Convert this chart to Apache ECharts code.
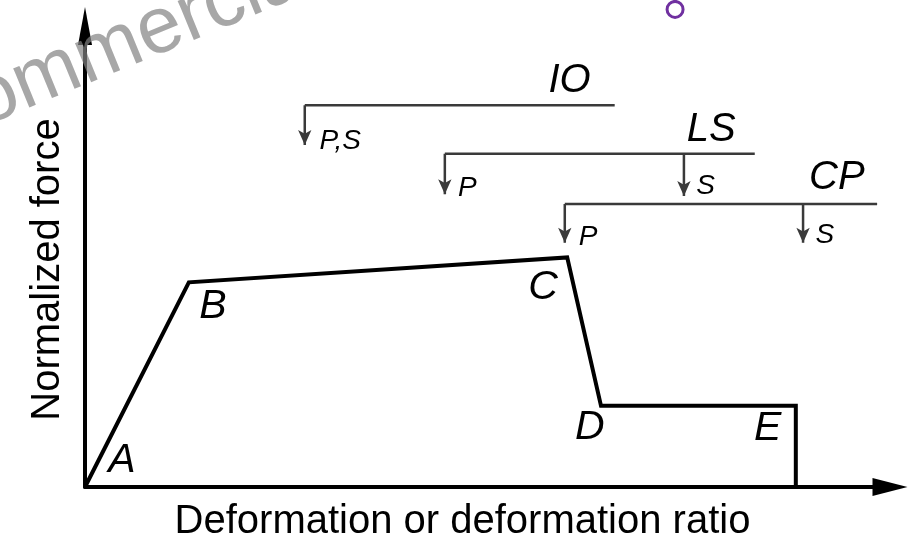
<!DOCTYPE html>
<html>
<head>
<meta charset="utf-8">
<script src="https://cdn.jsdelivr.net/npm/echarts@6/dist/echarts.min.js"></script>
<style>
  html, body { margin: 0; padding: 0; background: #fff; }
  #chart { width: 910px; height: 547px; }
</style>
</head>
<body>
<div id="chart"></div>
<script>
(function() {
  var font = 'Liberation Sans';
  var ink = '#000';
  var gray = '#3a3a3a';

  // backbone curve A-B-C-D-E (normalized units, 0..100)
  var curveX = [0, 12.9, 59.9, 64.1, 88.3, 88.3];
  var curveY = [0, 44.4, 49.8, 17.6, 17.6, 0];

  // point labels
  var pointNames = ['A', 'B', 'C', 'D', 'E'];
  var pointLabelX = [4.6, 15.9, 56.9, 62.7, 84.8];
  var pointLabelY = [5.8, 39.1, 43.3, 12.9, 12.7];

  // performance levels
  var levelNames = ['IO', 'LS', 'CP'];
  var levelY = [82.8, 72.3, 61.4];
  var levelStart = [27.3, 44.7, 59.6];
  var levelEnd = [65.8, 83.2, 98.4];
  var levelNameX = [60.2, 77.8, 93.4];
  var levelNameY = [88.2, 77.5, 67.0];

  // arrows under each level (P = primary, S = secondary)
  var dropX = [27.3, 44.7, 74.4, 59.6, 89.2];
  var dropTop = [82.8, 72.3, 72.3, 61.4, 61.4];
  var dropBottom = [74.2, 63.5, 63.1, 53.0, 53.0];
  var dropText = ['P,S', 'P', 'S', 'P', 'S'];
  var dropTextX = [31.7, 47.5, 77.1, 62.5, 91.9];
  var dropTextY = [75.1, 64.8, 65.2, 54.1, 54.7];

  // small purple ring at the top
  var ringX = [73.3];
  var ringY = [103.6];

  var chart = echarts.init(document.getElementById('chart'), null, { renderer: 'canvas' });

  var series = [];

  series.push({
    type: 'line',
    data: curveX.map(function(x, i) { return [x, curveY[i]]; }),
    showSymbol: false,
    symbol: 'none',
    lineStyle: { color: '#000', width: 4, join: 'miter' },
    animation: false,
    silent: true,
    z: 3
  });

  levelNames.forEach(function(n, i) {
    series.push({
      type: 'line',
      data: [[levelStart[i], levelY[i]], [levelEnd[i], levelY[i]]],
      symbol: 'none',
      lineStyle: { color: gray, width: 2.5 },
      animation: false,
      silent: true
    });
  });

  dropX.forEach(function(x, i) {
    series.push({
      type: 'line',
      data: [[x, dropTop[i]], [x, dropBottom[i]]],
      symbol: 'none',
      lineStyle: { color: gray, width: 2.5 },
      animation: false,
      silent: true
    });
  });

  series.push({
    type: 'scatter',
    data: dropX.map(function(x, i) { return [x, dropBottom[i]]; }),
    symbol: 'arrow',
    symbolSize: [10, 15],
    symbolRotate: 180,
    itemStyle: { color: gray, opacity: 1 },
    clip: false,
    animation: false,
    silent: true
  });

  function labelSeries(names, xs, ys, size) {
    return {
      type: 'scatter',
      data: names.map(function(n, i) { return { name: n, value: [xs[i], ys[i]] }; }),
      symbolSize: 1,
      itemStyle: { color: 'transparent', opacity: 1 },
      label: {
        show: true,
        position: 'inside',
        formatter: '{b}',
        color: ink,
        opacity: 1,
        fontFamily: font,
        fontStyle: 'italic',
        fontSize: size
      },
      clip: false,
      animation: false,
      silent: true
    };
  }

  series.push(labelSeries(pointNames, pointLabelX, pointLabelY, 41));
  series.push(labelSeries(levelNames, levelNameX, levelNameY, 40));
  series.push(labelSeries(dropText, dropTextX, dropTextY, 28));

  series.push({
    type: 'scatter',
    data: ringX.map(function(x, i) { return [x, ringY[i]]; }),
    symbol: 'circle',
    symbolSize: 16,
    itemStyle: { color: 'transparent', borderColor: '#7030a0', borderWidth: 3, opacity: 1 },
    clip: false,
    animation: false,
    silent: true
  });

  chart.setOption({
    backgroundColor: '#fff',
    animation: false,
    grid: { left: 85, right: 20, top: 26, bottom: 55 },
    xAxis: {
      type: 'value',
      min: 0,
      max: 100,
      name: 'Deformation or deformation ratio',
      nameLocation: 'middle',
      nameGap: 15,
      nameTextStyle: { fontSize: 40, color: ink, fontFamily: font, padding: [0, 50, 0, 0] },
      axisLine: {
        show: true,
        onZero: false,
        symbol: ['none', 'triangle'],
        symbolSize: [18, 35],
        lineStyle: { color: '#000', width: 4 }
      },
      axisTick: { show: false },
      axisLabel: { show: false },
      splitLine: { show: false }
    },
    yAxis: {
      type: 'value',
      min: 0,
      max: 100,
      name: 'Normalized force',
      nameLocation: 'middle',
      nameGap: 17,
      nameTextStyle: { fontSize: 40, color: ink, fontFamily: font, padding: [0, 26, 0, 0] },
      axisLine: {
        show: true,
        onZero: false,
        symbol: ['none', 'triangle'],
        symbolSize: [14, 38],
        lineStyle: { color: '#000', width: 4 }
      },
      axisTick: { show: false },
      axisLabel: { show: false },
      splitLine: { show: false }
    },
    graphic: [{
      type: 'text',
      x: -10,
      y: 143,
      rotation: 0.39,
      z: 100,
      silent: true,
      style: {
        text: 'ommercial',
        fontSize: 80,
        fontFamily: font,
        fill: 'rgba(130,130,130,0.7)',
        align: 'left',
        verticalAlign: 'bottom'
      }
    }],
    series: series
  });

  window.addEventListener('resize', function() { chart.resize(); });
})();
</script>
</body>
</html>
